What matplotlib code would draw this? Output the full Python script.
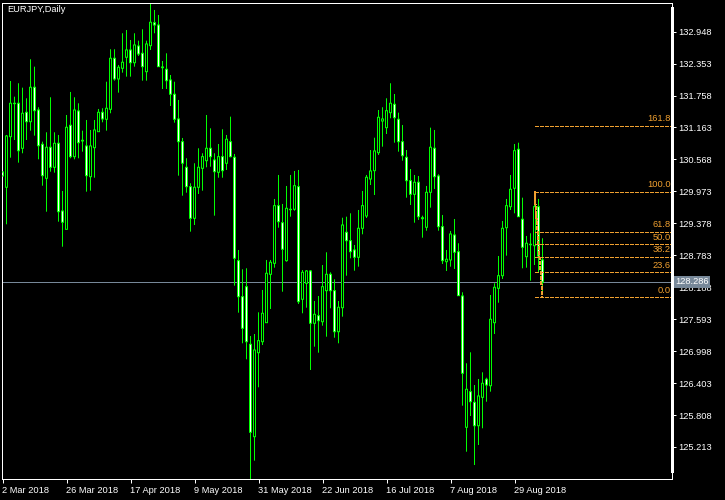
import matplotlib
matplotlib.use('Agg')
import matplotlib.pyplot as plt
from matplotlib.patches import Rectangle

plt.rcParams['font.family'] = ['Liberation Sans', 'DejaVu Sans']

# EURJPY daily, 2 Mar 2018 .. 7 Sep 2018 (bar index 0..135)
opens = [130.335, 130.05, 130.992, 131.614, 131.614, 130.776, 131.446, 131.271, 131.912, 131.489,
         130.85, 130.217, 130.795, 130.422, 130.869, 129.608, 129.267, 131.204, 130.62, 131.471,
         130.925, 130.819, 130.247, 130.787, 131.085, 131.446, 131.316, 131.502, 132.452, 132.067,
         132.266, 132.471, 132.607, 132.37, 132.681, 132.545, 132.203, 132.687, 133.115, 133.072,
         132.29, 132.247, 132.048, 131.782, 131.322, 130.899, 130.422, 130.061, 129.472, 130.05,
         130.403, 130.545, 130.776, 130.558, 130.329, 130.62, 130.497, 130.899, 130.608, 128.683,
         128.012, 128.198, 127.125, 125.405, 126.969, 127.174, 127.528, 128.429, 128.634, 129.707,
         129.39, 128.683, 129.64, 129.64, 130.061, 127.964, 128.262, 128.491, 127.517, 127.658,
         127.546, 128.124, 128.429, 128.124, 127.36, 127.807, 129.211, 129.055, 128.882, 128.746,
         129.286, 129.515, 130.204, 130.359, 130.694, 131.284, 131.16, 131.439, 131.595, 131.316,
         130.899, 130.608, 130.173, 129.919, 130.143, 129.483, 129.305, 129.956, 130.776, 130.26,
         129.316, 128.664, 128.696, 129.161, 128.85, 128.025, 125.58, 126.243, 126.045, 125.609,
         126.138, 126.474, 126.354, 127.528, 128.168, 128.403, 129.297, 129.688, 130.031, 130.757,
         129.454, 128.757, 128.988, 128.962, 129.688, 128.696]
highs = [130.409, 131.024, 132.029, 131.737, 131.987, 131.905, 131.707, 132.434, 132.296, 131.54,
         130.899, 131.074, 131.726, 131.074, 131.024, 129.981, 131.396, 131.825, 131.726, 131.614,
         131.104, 131.303, 131.117, 131.303, 131.508, 131.521, 132.016, 132.62, 132.62, 132.327,
         132.918, 132.979, 132.793, 132.918, 132.78, 132.992, 132.78, 133.488, 133.352, 133.259,
         132.402, 132.545, 132.141, 132.016, 131.676, 130.968, 130.59, 130.124, 130.497, 130.776,
         130.683, 131.396, 131.148, 130.683, 130.856, 131.13, 131.024, 131.365, 130.67, 128.882,
         128.522, 128.541, 127.28, 127.317, 127.721, 128.137, 128.696, 128.696, 129.832, 130.279,
         129.739, 130.074, 130.279, 130.353, 130.372, 128.509, 128.509, 128.509, 127.932, 128.025,
         128.602, 128.839, 128.466, 128.336, 127.932, 129.483, 129.502, 129.565, 128.975, 129.627,
         129.981, 130.279, 130.744, 130.973, 131.489, 131.54, 131.707, 131.987, 131.787, 131.439,
         131.21, 130.744, 130.39, 130.279, 130.26, 129.521, 130.074, 131.16, 131.117, 130.292,
         129.534, 128.882, 129.236, 129.459, 129.007, 128.094, 126.772, 126.976, 126.367, 126.479,
         126.604, 126.503, 128.044, 128.262, 128.77, 129.422, 129.832, 130.279, 130.856, 130.88,
         129.856, 129.143, 129.193, 129.845, 129.832, 129.1]
lows = [130.167, 129.36, 130.601, 130.93, 130.508, 130.683, 130.93, 131.104, 131.011, 130.571,
        130.079, 129.595, 130.34, 130.322, 129.409, 128.943, 129.267, 130.59, 130.571, 130.59,
        130.713, 129.968, 129.986, 130.228, 131.085, 131.26, 131.104, 131.428, 132.035, 131.812,
        132.184, 132.11, 132.11, 132.296, 132.495, 132.035, 132.035, 132.607, 132.918, 132.296,
        131.88, 131.88, 131.564, 131.253, 130.266, 129.893, 129.949, 129.223, 129.347, 129.925,
        129.986, 130.422, 130.433, 129.521, 130.228, 130.228, 130.372, 130.608, 128.217, 127.714,
        127.144, 126.846, 124.617, 124.958, 126.325, 127.112, 127.528, 127.783, 128.552, 129.297,
        128.105, 128.664, 129.502, 129.614, 127.876, 127.703, 127.807, 126.647, 127.081, 126.969,
        127.472, 127.267, 127.796, 127.248, 127.144, 127.64, 128.403, 128.727, 128.496, 128.571,
        129.174, 129.478, 130.092, 129.906, 130.651, 130.806, 131.042, 131.335, 130.88, 130.713,
        130.545, 129.856, 129.72, 129.39, 129.441, 129.111, 129.241, 129.67, 130.018, 129.241,
        128.621, 128.491, 128.571, 128.528, 128.031, 125.982, 125.125, 125.79, 124.877, 125.25,
        125.561, 126.056, 126.243, 127.317, 127.9, 128.342, 128.776, 129.627, 129.565, 129.502,
        128.541, 128.552, 128.31, 128.602, 128.472, 128.118]
closes = [130.26, 131.005, 131.614, 131.607, 130.731, 131.428, 131.271, 131.912, 131.476, 130.824,
          130.266, 130.795, 130.422, 130.869, 129.595, 129.398, 131.167, 130.62, 131.489, 130.88,
          130.912, 130.266, 130.819, 131.117, 131.446, 131.322, 131.521, 132.452, 132.067, 132.285,
          132.378, 132.607, 132.37, 132.7, 132.532, 132.296, 132.719, 133.123, 133.072, 132.296,
          132.277, 132.035, 131.782, 131.316, 130.899, 130.497, 130.061, 129.472, 130.05, 130.422,
          130.62, 130.776, 130.62, 130.34, 130.62, 130.359, 130.944, 130.62, 128.727, 128.012,
          127.423, 127.174, 125.486, 127.019, 127.193, 127.703, 128.448, 128.653, 129.707, 129.409,
          128.895, 129.658, 129.632, 130.079, 127.919, 128.466, 128.491, 127.517, 127.684, 127.565,
          128.198, 128.429, 128.124, 127.36, 127.815, 129.347, 129.055, 128.85, 128.746, 129.286,
          129.707, 130.236, 130.353, 130.726, 131.353, 131.322, 131.476, 131.614, 131.346, 130.899,
          130.638, 130.173, 129.919, 130.143, 129.502, 129.465, 129.956, 130.795, 130.247, 129.316,
          128.683, 128.709, 129.18, 128.839, 128.031, 126.585, 126.287, 126.056, 125.609, 126.163,
          126.399, 126.367, 127.591, 128.187, 128.403, 129.286, 129.707, 130.012, 130.731, 129.502,
          128.932, 129.007, 128.98, 129.688, 128.77, 128.286]

date_pos = [0, 16, 32, 48, 64, 80, 96, 112, 128]
date_labels = ['2 Mar 2018', '26 Mar 2018', '17 Apr 2018', '9 May 2018', '31 May 2018',
               '22 Jun 2018', '16 Jul 2018', '7 Aug 2018', '29 Aug 2018']
price_ticks = [132.948, 132.353, 131.758, 131.163, 130.568, 129.973, 129.378,
               128.783, 128.188, 127.593, 126.998, 126.403, 125.808, 125.213]

bid = 128.286
fib_low = 128.00      # level 0.0
fib_high = 129.97     # level 100.0
fib_levels = [0.0, 23.6, 38.2, 50.0, 61.8, 100.0, 161.8]
fib_start, fib_end = 133, 135

GREEN = '#00FF00'
ORANGE = '#F0A030'
LW = 0.72  # one pixel

y_lo, y_hi = 124.611, 133.491
ax_h_px = 476.8

fig = plt.figure(figsize=(7.25, 5.0), dpi=100, facecolor='black')
ax = fig.add_axes([2 / 725, 1 - 479.3 / 500, 670 / 725, ax_h_px / 500], facecolor='black')
px = (y_hi - y_lo) / ax_h_px  # one pixel in price units

x = list(range(len(opens)))
tops = [max(o, c) for o, c in zip(opens, closes)]
bottoms = [min(o, c) for o, c in zip(opens, closes)]
faces = ['black' if c >= o else 'white' for o, c in zip(opens, closes)]

# current price line
ax.axhline(bid, color='#778899', lw=LW, zorder=1)

# wicks
ax.vlines(x, lows, highs, colors=GREEN, lw=LW, zorder=2, snap=False)

# bodies: 3px green block, then 1px inner fill (white = down, black = up)
ax.bar(x, [t - b + px for t, b in zip(tops, bottoms)], bottom=[b - px / 2 for b in bottoms],
       width=0.75, color=GREEN, linewidth=0, zorder=3, snap=False)
inner = [i for i in x if tops[i] - bottoms[i] > 1.5 * px]
ax.bar(inner, [tops[i] - bottoms[i] - px for i in inner],
       bottom=[bottoms[i] + px / 2 for i in inner], width=0.25,
       color=[faces[i] for i in inner], linewidth=0, zorder=4, snap=False)

# fibonacci retracement
span = fib_high - fib_low
fib_prices = [fib_low + span * lv / 100 for lv in fib_levels]
ax.hlines(fib_prices, fib_start, 167, colors=ORANGE, lw=LW,
          linestyles=(0, (3, 2)), zorder=5, antialiased=False)
ax.plot([fib_start, fib_end], [fib_high, fib_low], color=ORANGE, lw=LW,
        ls=(0, (3, 2)), zorder=5, antialiased=False)
for lv, p in zip(fib_levels, fib_prices):
    ax.annotate(f'{lv:.1f}', (167, p), xytext=(0, 2), textcoords='offset points',
                ha='right', va='bottom', color=ORANGE, fontsize=6.7)

# bar i sits on a pixel centre
ax.set_xlim(-0.125, 167.375)
ax.set_ylim(y_lo, y_hi)

for s in ax.spines.values():
    s.set_color('white')
    s.set_linewidth(LW)

ax.yaxis.tick_right()
ax.set_yticks(price_ticks)
ax.set_yticklabels([f'{p:.3f}' for p in price_ticks])
ax.tick_params(axis='y', direction='out', length=3, width=LW, colors='white',
               labelsize=6.7, pad=1.5)

ax.set_xticks(date_pos)
ax.set_xticklabels(date_labels, ha='left')
ax.tick_params(axis='x', direction='out', length=3, width=LW, colors='white',
               labelsize=6.7, pad=1.5)

# bid label on the price scale
ax.text(1.0045, bid, f'{bid:.3f}', transform=ax.get_yaxis_transform(),
        ha='left', va='center', color='white', fontsize=6.7, zorder=10,
        bbox=dict(boxstyle='square,pad=0.2', fc='#778899', ec='none'), clip_on=False)

# thick scale bar on right edge
fig.add_artist(Rectangle((671 / 725, 1 - 472.7 / 500), 3 / 725, 466 / 500,
                         transform=fig.transFigure, fc='white', ec='none'))

fig.text(7 / 725, 1 - 10 / 500, 'EURJPY,Daily', color='white', fontsize=6.7, va='center')

fig.savefig('out.png', dpi=100, facecolor='black')
